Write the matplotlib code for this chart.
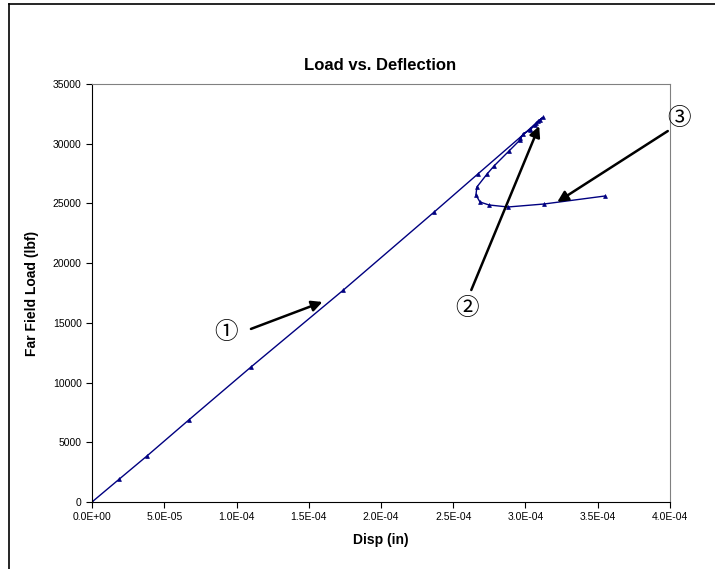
import matplotlib
matplotlib.use('Agg')
import matplotlib.pyplot as plt
from matplotlib.lines import Line2D

# load-deflection path
disp = [0.0, 1.9e-5, 3.8e-5, 6.7e-5, 1.1e-4, 1.74e-4, 2.37e-4, 2.67e-4,
        2.96e-4, 3.03e-4, 3.07e-4, 3.10e-4, 3.12e-4,
        3.09e-4, 3.066e-4, 3.031e-4, 2.983e-4, 2.962e-4, 2.886e-4, 2.782e-4,
        2.734e-4, 2.664e-4, 2.657e-4, 2.685e-4, 2.747e-4, 2.879e-4, 3.128e-4, 3.55e-4]
load = [0, 1930, 3850, 6870, 11300, 17750, 24300, 27460,
        30500, 31250, 31700, 32000, 32200,
        31900, 31570, 31150, 30810, 30310, 29390, 28130,
        27460, 26380, 25710, 25120, 24870, 24700, 24950, 25620]

# callouts: label, text position, arrow tail, arrow tip
callouts = [
    ('\u2460', (9.3e-5, 14150), (1.10e-4, 14490), (1.595e-4, 16750)),
    ('\u2461', (2.595e-4, 16240), (2.625e-4, 17750), (3.095e-4, 31480)),
    ('\u2462', (4.06e-4, 32070), (3.985e-4, 31060), (3.22e-4, 25120)),
]

xticks = [0, 5e-5, 1e-4, 1.5e-4, 2e-4, 2.5e-4, 3e-4, 3.5e-4, 4e-4]
yticks = list(range(0, 35001, 5000))

plt.rcParams['font.family'] = ['Liberation Sans', 'DejaVu Sans']

fig = plt.figure(figsize=(7.15, 5.69), dpi=100)
ax = fig.add_axes([0.1287, 0.1178, 0.937 - 0.1287, 0.8524 - 0.1178])

ax.plot(disp, load, color='#000080', lw=1.0, marker='^', ms=2.8,
        markeredgewidth=0.5, markerfacecolor='#000080')

ax.set_xlim(0, 4e-4)
ax.set_ylim(0, 35000)
ax.set_xticks(xticks)
ax.set_xticklabels(['%.1E' % v for v in xticks])
ax.set_yticks(yticks)
ax.tick_params(direction='out', length=4, labelsize=7.5, width=0.8)

for s in ['top', 'right']:
    ax.spines[s].set_color('#808080')
for s in ['left', 'bottom']:
    ax.spines[s].set_color('black')

ax.set_xlabel('Disp (in)', fontsize=10, fontweight='bold', labelpad=8)
ax.set_ylabel('Far Field Load (lbf)', fontsize=10, fontweight='bold', labelpad=10)
fig.text(0.532, 0.885, 'Load vs. Deflection', ha='center', va='center',
         fontsize=12, fontweight='bold')

for lab, tpos, tail, tip in callouts:
    ax.annotate('', xy=tip, xytext=tail, annotation_clip=False,
                arrowprops=dict(arrowstyle='-|>', color='black', lw=1.8,
                                mutation_scale=16, shrinkA=0, shrinkB=0))
    ax.text(tpos[0], tpos[1], lab, ha='center', va='center', fontsize=17,
            family=['Noto Sans CJK JP', 'DejaVu Sans'], clip_on=False)

# outer chart border
fig.add_artist(Line2D([0.0126, 0.0126], [0.0, 0.993], color='black', lw=1.2))
fig.add_artist(Line2D([0.0126, 1.0], [0.993, 0.993], color='black', lw=1.2))

fig.savefig('out.png', dpi=100)
